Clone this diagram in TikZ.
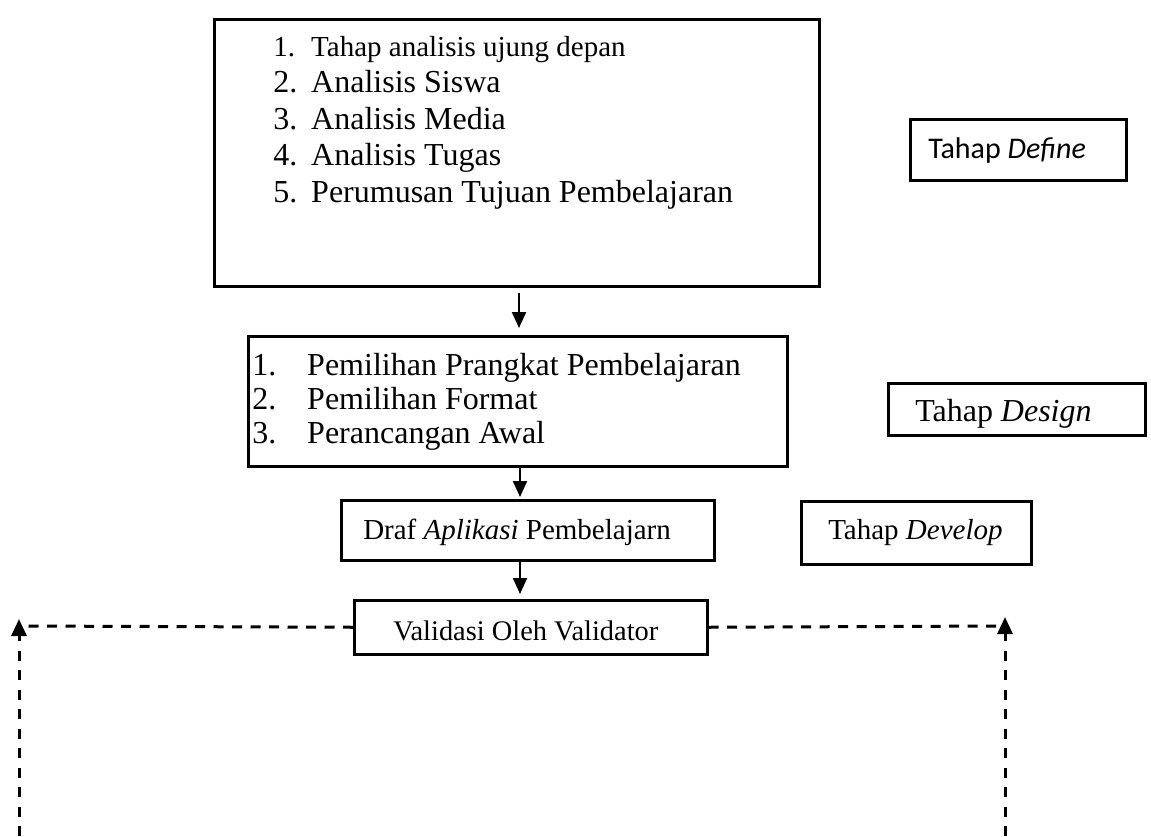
\documentclass[tikz,border=0pt]{standalone}
\usepackage{fontspec}
\setmainfont{Liberation Serif}
\newfontfamily\calibrifont{Carlito}
\usetikzlibrary{arrows.meta}
\setlength\parindent{0pt}
\setlength\parskip{0pt}
% #1 width, #2 height, #3 baseline from top, #4 left indent, #5 font size, #6 text
\newcommand\onebox[6]{%
\begin{minipage}[t][#2pt][t]{#1pt}%
\fontsize{#5pt}{#5pt}\selectfont
\vspace*{\dimexpr #3pt-30pt\relax}%
\hspace*{#4pt}\rule{0pt}{30pt}#6\par
\end{minipage}}
\begin{document}
\begin{tikzpicture}[x=1pt,y=-1pt,
  box/.style={draw, line width=2.5pt, inner sep=0pt, anchor=north west},
  arr/.style={line width=2.2pt, -{Triangle[length=16pt,width=14pt]}},
  dsh/.style={line width=3pt, dash pattern=on 10pt off 8.5pt},
  dsharr/.style={line width=3pt, dash pattern=on 10pt off 9.5pt, -{Triangle[length=17pt,width=15pt]}}]
\useasboundingbox (0,0) rectangle (1151,836);

% Define stage
\node[box] (b1) at (213,18) {\begin{minipage}[t][267pt][t]{605pt}\fontsize{32pt}{36.5pt}\selectfont
\vspace*{7pt}%
\hspace*{59pt}\rule{0pt}{30pt}{\fontsize{29pt}{36.5pt}\selectfont\makebox[38pt][l]{1.}Tahap analisis ujung depan}\par
\hspace*{59pt}\makebox[38pt][l]{2.}Analisis Siswa\par
\hspace*{59pt}\makebox[38pt][l]{3.}Analisis Media\par
\hspace*{59pt}\makebox[38pt][l]{4.}Analisis Tugas\par
\hspace*{59pt}\makebox[38pt][l]{5.}Perumusan Tujuan Pembelajaran\par
\end{minipage}};
\node[box] (def) at (909,118) {\onebox{216}{61}{39}{18}{30}{\calibrifont Tahap \textit{Define}}};

% Design stage
\node[box] (b2) at (247,335) {\begin{minipage}[t][130pt][t]{539pt}\fontsize{32pt}{34pt}\selectfont
\vspace*{9pt}%
\hspace*{4pt}\rule{0pt}{30pt}\makebox[55pt][l]{1.}Pemilihan Prangkat Pembelajaran\par
\hspace*{4pt}\makebox[55pt][l]{2.}Pemilihan Format\par
\hspace*{4pt}\makebox[55pt][l]{3.}Perancangan Awal\par
\end{minipage}};
\node[box] (des) at (887,382) {\onebox{257}{52}{38}{27}{32}{Tahap \textit{Design}}};

% Develop stage
\node[box] (draf) at (340,499) {\onebox{373}{60}{39}{22}{29}{Draf \textit{Aplikasi} Pembelajarn}};
\node[box] (dev) at (800,500) {\onebox{230}{63}{38}{27}{29}{Tahap \textit{Develop}}};
\node[box] (val) at (353,599) {\onebox{353}{54}{40}{39}{28.4}{Validasi Oleh Validator}};

% connectors
\coordinate (ax) at (519,0);
\coordinate (ax2) at (520,0);
\draw[arr, shorten <=5pt, shorten >=7pt] (b1.south -| ax) -- (b2.north -| ax);
\draw[arr, shorten >=2pt] (b2.south -| ax2) -- (draf.north -| ax2);
\draw[arr, shorten >=5pt] (draf.south -| ax2) -- (val.north -| ax2);

\coordinate (lbot) at (19,836);
\coordinate (ltop) at (19,619);
\coordinate (lmid) at (22,626);
\coordinate (rbot) at (1005,836);
\coordinate (rtop) at (1005,617);
\coordinate (rmid) at (1000,626);
\draw[dsh] (val.west) -- (lmid);
\draw[dsh] (val.east) -- (rmid);
\draw[dsharr] (lbot) -- (ltop);
\draw[dsharr] (rbot) -- (rtop);
\end{tikzpicture}
\end{document}
